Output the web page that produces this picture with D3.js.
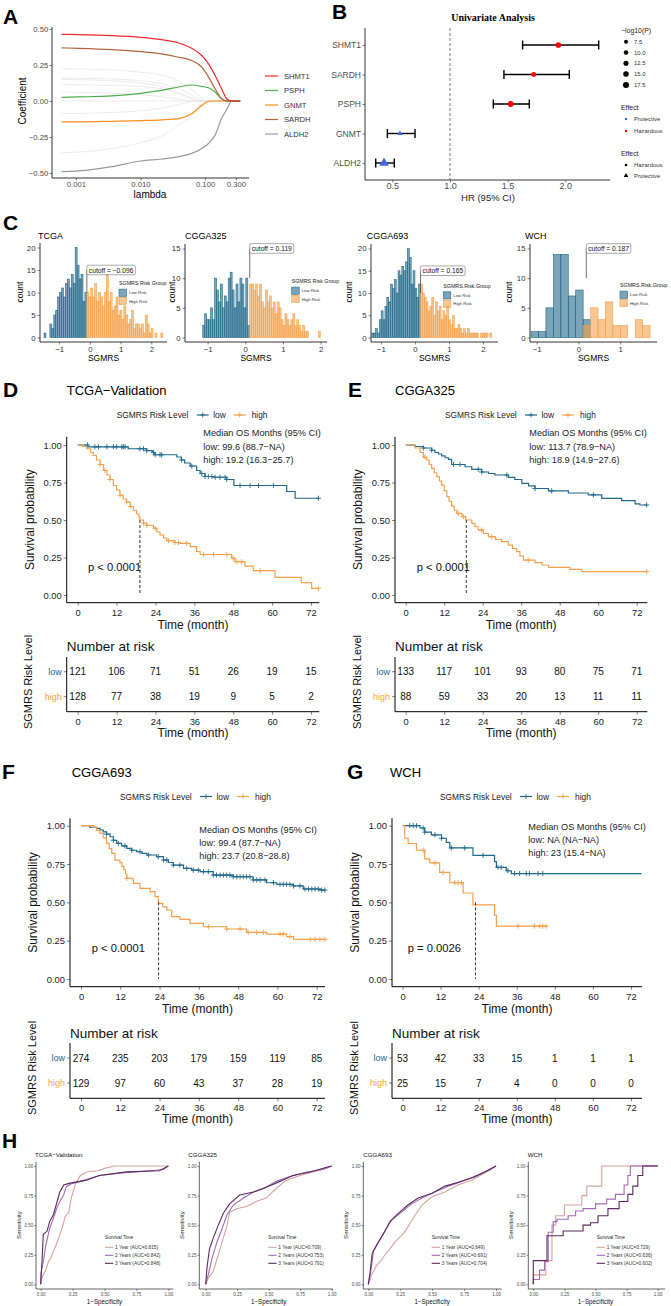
<!DOCTYPE html>
<html>
<head>
<meta charset="utf-8">
<script src="https://cdn.jsdelivr.net/npm/d3@7"></script>
<style>
  body { margin: 0; background: #fff; }
  svg { display: block; font-family: "Liberation Sans", Arial, sans-serif; }
</style>
</head>
<body>
<svg id="fig" width="671" height="1306"></svg>
<script>
// ---------- A: lasso paths ----------
const lassoLambda = [0.0006, 0.0011, 0.0036, 0.01, 0.021, 0.039, 0.062, 0.089, 0.113, 0.143, 0.18, 0.22, 0.26, 0.35];
const lassoGenes = ["SHMT1", "PSPH", "GNMT", "SARDH", "ALDH2"];
const coefSHMT1 = [0.463, 0.461, 0.454, 0.442, 0.426, 0.403, 0.366, 0.316, 0.258, 0.177, 0.085, 0.012, 0, 0];
const coefPSPH  = [0.025, 0.028, 0.035, 0.053, 0.074, 0.097, 0.111, 0.101, 0.092, 0.062, 0.016, 0, 0, 0];
const coefGNMT  = [-0.145, -0.145, -0.141, -0.136, -0.131, -0.122, -0.088, -0.03, -0.002, 0, 0, 0, 0, 0];
const coefSARDH = [0.369, 0.366, 0.357, 0.343, 0.327, 0.304, 0.281, 0.235, 0.166, 0.085, 0.016, 0, 0, 0];
const coefALDH2 = [-0.491, -0.486, -0.456, -0.417, -0.403, -0.387, -0.364, -0.33, -0.295, -0.237, -0.122, -0.053, 0, 0];
const coefOther = [
  [0.224, 0.222, 0.215, 0.2, 0.18, 0.14, 0.08, 0.02, 0, 0, 0, 0, 0, 0],
  [0.159, 0.158, 0.153, 0.14, 0.12, 0.085, 0.04, 0.005, 0, 0, 0, 0, 0, 0],
  [0.15, 0.148, 0.14, 0.125, 0.1, 0.06, 0.02, 0, 0, 0, 0, 0, 0, 0],
  [0.115, 0.113, 0.108, 0.1, 0.085, 0.05, 0.015, 0, 0, 0, 0, 0, 0, 0],
  [0.062, 0.06, 0.055, 0.045, 0.03, 0.012, 0, 0, 0, 0, 0, 0, 0, 0],
  [0, 0, 0, 0, 0, 0, 0, 0, 0, 0, 0, 0, 0, 0],
  [-0.088, -0.086, -0.08, -0.068, -0.05, -0.025, -0.005, 0, 0, 0, 0, 0, 0, 0],
  [-0.36, -0.355, -0.33, -0.29, -0.245, -0.17, -0.1, -0.04, -0.005, 0, 0, 0, 0, 0]
];
const lassoXTicks = [0.001, 0.01, 0.1, 0.3];
const lassoYTicks = [-0.5, -0.25, 0, 0.25, 0.5];

// ---------- B: univariate cox ----------
const uniGenes = ["SHMT1", "SARDH", "PSPH", "GNMT", "ALDH2"];
const uniHR    = [1.94, 1.726, 1.526, 0.566, 0.428];
const uniLow   = [1.63, 1.468, 1.376, 0.457, 0.356];
const uniHigh  = [2.29, 2.035, 1.688, 0.697, 0.517];
const uniLogP  = [15.5, 12.0, 17.0, 5.0, 16.5];
const uniEffect = ["Hazardous", "Hazardous", "Hazardous", "Protective", "Protective"];
const uniSizeLegend = [7.5, 10.0, 12.5, 15.0, 17.5];
const uniXTicks = [0.5, 1.0, 1.5, 2.0];

// ---------- C: SGMRS histograms ----------
const histNames = ["TCGA", "CGGA325", "CGGA693", "WCH"];
const histCutoff = [-0.096, 0.119, 0.165, 0.187];
const histCutoffText = ["cutoff = −0.096", "cutoff = 0.119", "cutoff = 0.165", "cutoff = 0.187"];
const histStart = [-1.489, -1.129, -1.265, -1.134];
const histWidth = [0.0633, 0.052, 0.055, 0.178];
const histHighFrom = [22, 24, 26, 7];
const histLow = [
  [1, 0, 0, 3, 2, 5, 6, 9, 10, 11, 9, 12, 13, 11, 14, 12, 20, 16, 13, 14, 8, 10],
  [2, 4, 3, 3, 5, 3, 10, 8, 6, 9, 5, 7, 6, 10, 11, 8, 5, 9, 6, 10, 9, 5, 10, 2],
  [1, 1, 2, 1, 4, 6, 4, 7, 9, 8, 12, 11, 13, 10, 15, 14, 16, 15, 17, 20, 18, 12, 15, 11, 9, 12],
  [1, 1, 5, 14, 14, 7, 8, 3]
];
const histHigh = [
  [10, 9, 11, 9, 12, 8, 10, 9, 7, 10, 14, 8, 10, 6, 7, 9, 5, 6, 4, 7, 5, 3, 4, 6, 2, 3, 3, 2, 3, 1, 5, 3, 1, 2, 0, 1, 0, 0, 1],
  [9, 9, 8, 9, 7, 9, 6, 5, 8, 6, 7, 5, 6, 4, 6, 5, 3, 2, 4, 3, 2, 3, 4, 2, 3, 2, 1, 2, 1, 1, 0, 0, 0, 0, 0, 1],
  [12, 10, 9, 8, 6, 7, 9, 5, 8, 6, 7, 4, 6, 5, 7, 4, 3, 5, 2, 2, 3, 2, 1, 2, 1, 2, 1, 1, 1, 1, 1, 0, 1, 1, 1, 1, 0, 1],
  [2, 5, 3, 6, 2, 2, 0, 3, 2]
];
const histLegendTitle = ["SGMRS Risk Group", "SGMRS Risk Group", "SGMRS.Risk.Group", "SGMRS.Risk.Group"];
const histGroups = ["Low Risk", "High Risk"];
const histYTicks = [[0, 5, 10, 15, 20], [0, 5, 10, 15], [0, 5, 10, 15, 20], [0, 5, 10, 15]];
const histXTicks = [[-1, 0, 1, 2], [-1, 0, 1, 2], [-1, 0, 1, 2], [-1, 0, 1]];

// ---------- D-G: Kaplan-Meier ----------
const kmTicks = [0, 12, 24, 36, 48, 60, 72];
const kmYTicks = [0, 0.25, 0.5, 0.75, 1];

const tcgaName = "TCGA−Validation";
const tcgaLowSteps = [[0,1],[3.2,0.988],[15.6,0.975],[21.3,0.962],[23,0.95],[23.8,0.935],[30.6,0.92],[32,0.9],[33,0.88],[34.7,0.86],[36.7,0.83],[37.8,0.81],[39.3,0.79],[41.9,0.785],[46,0.77],[48.2,0.73],[64.5,0.69],[67.1,0.645]];
const tcgaLowCensor = [3.0,5.3,6.4,9.0,11.0,12.0,13.6,14.1,14.6,19.2,20.3,21.3,23.4,23.9,25.4,25.9,32.1,35.2,38.3,39.3,40.3,41.4,42.4,43.9,45.5,46.0,50.1,53.2,55.8,60.4,74.3];
const tcgaHighSteps = [[0,1],[1.5,0.99],[2.8,0.975],[4,0.95],[4.8,0.93],[5.8,0.9],[6.9,0.87],[8,0.83],[9,0.8],[10,0.77],[11,0.73],[12,0.7],[13,0.665],[14,0.64],[15.1,0.62],[16.2,0.59],[17.2,0.565],[18.2,0.54],[18.9,0.52],[19.2,0.5],[20.3,0.48],[21.3,0.465],[23.4,0.445],[24.4,0.42],[25.4,0.4],[26.5,0.38],[27.5,0.362],[30,0.35],[31.6,0.344],[34.7,0.322],[36.7,0.29],[37.8,0.27],[47.5,0.245],[48.5,0.222],[51.6,0.193],[54.2,0.162],[60.9,0.118],[69,0.082],[72.2,0.044]];
const tcgaHighCensor = [6.9,8.4,10.0,13.1,15.1,16.4,20.3,21.3,23.9,28.0,30.0,31.1,33.6,38.8,41.9,46.0,48.0,49.1,50.6,56.3,74.3];
const tcgaMedian = 19.2;
const tcgaText = ["Median OS Months (95% CI)", "low: 99.6 (88.7−NA)", "high: 19.2 (16.3−25.7)"];
const tcgaP = "p < 0.0001";
const tcgaRiskLow = [121, 106, 71, 51, 26, 19, 15];
const tcgaRiskHigh = [128, 77, 38, 19, 9, 5, 2];

const c325Name = "CGGA325";
const c325LowSteps = [[0,1],[2.9,0.99],[5.5,0.98],[8.1,0.965],[9.1,0.95],[10.2,0.94],[11.2,0.927],[12.3,0.915],[13.3,0.904],[14.3,0.87],[18.5,0.855],[20.6,0.838],[23.7,0.82],[25.8,0.81],[27.8,0.8],[32,0.784],[34,0.77],[36.2,0.744],[38.3,0.728],[40.3,0.71],[44.5,0.694],[50.7,0.68],[56.9,0.667],[61.1,0.644],[67.3,0.629],[71.5,0.607],[73,0.6]];
const c325LowCensor = [5.5,8.1,14.9,16.9,22.6,23.7,31.5,40.3,45.5,58.5,75.1];
const c325HighSteps = [[0,1],[2.9,0.98],[4.5,0.95],[5.5,0.918],[6.5,0.9],[7.3,0.87],[8.1,0.844],[8.9,0.815],[9.7,0.789],[10.5,0.76],[11.2,0.733],[12,0.695],[12.8,0.656],[13.5,0.625],[14.3,0.593],[15.1,0.565],[15.9,0.544],[17.5,0.522],[18.7,0.5],[20.6,0.478],[21.6,0.455],[22.6,0.433],[24.2,0.41],[25.8,0.389],[28,0.37],[29.9,0.356],[32,0.333],[33.3,0.31],[34.6,0.289],[35.6,0.26],[36.7,0.233],[40.3,0.216],[42.5,0.2],[44.5,0.184],[51.2,0.171],[54.9,0.156]];
const c325HighCensor = [6.0,16.4,18.0,23.7,26.8,38.2,75.1];
const c325Median = 18.9;
const c325Text = ["Median OS Months (95% CI)", "low: 113.7 (78.9−NA)", "high: 18.9 (14.9−27.6)"];
const c325P = "p < 0.0001";
const c325RiskLow = [133, 117, 101, 93, 80, 75, 71];
const c325RiskHigh = [88, 59, 33, 20, 13, 11, 11];

const c693Name = "CGGA693";
const c693LowSteps = [[0,1],[2.7,0.99],[4.8,0.983],[5.8,0.972],[6.8,0.96],[7.8,0.945],[8.9,0.928],[9.9,0.905],[10.9,0.885],[12.4,0.868],[14,0.852],[15.5,0.84],[17,0.83],[18.6,0.82],[20.1,0.809],[23.1,0.798],[25.2,0.776],[26.7,0.76],[28.2,0.743],[31.3,0.722],[33.8,0.71],[36.4,0.7],[40.4,0.678],[46.5,0.667],[52.6,0.646],[56.7,0.628],[59.8,0.617],[64.9,0.607],[67.9,0.587],[73,0.58]];
const c693LowCensor = [7.8,9.9,11.4,13.4,15.5,18.0,20.6,23.6,25.2,26.2,28.2,30.2,32.3,34.3,35.8,37.4,38.9,40.4,41.4,42.5,43.5,44.5,45.5,46.5,47.6,48.6,49.6,50.6,51.6,52.6,53.7,54.7,56.2,58.8,60.8,61.8,62.8,63.8,64.9,66.9,68.4,69.5,70.5,71.5,72.5,73.5,74.5];
const c693HighSteps = [[0,1],[3.8,0.99],[4.8,0.97],[5.8,0.95],[6.8,0.92],[7.8,0.885],[8.6,0.85],[9.4,0.82],[10.4,0.776],[11.9,0.759],[12.5,0.735],[13.1,0.711],[13.6,0.685],[14,0.657],[16,0.624],[18,0.591],[21.1,0.57],[22.6,0.537],[23.6,0.493],[25,0.47],[26.2,0.45],[27.7,0.407],[30.2,0.389],[33.3,0.363],[37.4,0.341],[44.5,0.326],[50.6,0.304],[56.7,0.293],[62.8,0.276],[64.9,0.259]];
const c693HighCensor = [14.0,38.9,44.5,48.6,51.1,53.7,55.7,60.8,61.8,63.8,70.0,71.5,73.0,74.5];
const c693Median = 23.7;
const c693Text = ["Median OS Months (95% CI)", "low: 99.4 (87.7−NA)", "high: 23.7 (20.8−28.8)"];
const c693P = "p < 0.0001";
const c693RiskLow = [274, 235, 203, 179, 159, 119, 85];
const c693RiskHigh = [129, 97, 60, 43, 37, 28, 19];

const wchName = "WCH";
const wchLowSteps = [[0,1],[5.5,0.985],[7,0.958],[9.1,0.94],[12.3,0.918],[13.8,0.891],[14.9,0.855],[22.2,0.806],[29,0.766],[29.6,0.728],[32.7,0.706],[34.3,0.688]];
const wchLowCensor = [2.3,3.4,4.4,6.5,7.0,10.2,12.3,15.4,19.6,25.4,30.1,31.1,33.2,35.3,36.9,39.0,40.0,42.7,44.2];
const wchHighSteps = [[0,1],[0.7,0.918],[1.8,0.884],[4.4,0.84],[7,0.784],[8.6,0.757],[11.7,0.695],[14.9,0.628],[19.1,0.561],[22.2,0.483],[29,0.416],[29.6,0.345]];
const wchHighCensor = [6.5,10.2,12.8,16.5,17.5,18.6,36.4,41.6,43.2,44.2,45.3];
const wchMedian = 23;
const wchText = ["Median OS Months (95% CI)", "low: NA (NA−NA)", "high: 23 (15.4−NA)"];
const wchP = "p = 0.0026";
const wchRiskLow = [53, 42, 33, 15, 1, 1, 1];
const wchRiskHigh = [25, 15, 7, 4, 0, 0, 0];

// ---------- H: time-dependent ROC ----------
const rocNames = ["TCGA−Validation", "CGGA325", "CGGA693", "WCH"];
const rocLabels = ["1 Year", "2 Years", "3 Years"];
const rocAUC = [[0.815, 0.842, 0.848], [0.709, 0.753, 0.791], [0.649, 0.691, 0.704], [0.729, 0.636, 0.602]];
const rocTicks = [0, 0.25, 0.5, 0.75, 1];
const rocTCGA = [
  [[0,0],[0.005,0.04],[0.02,0.08],[0.04,0.12],[0.06,0.19],[0.08,0.22],[0.1,0.28],[0.12,0.33],[0.14,0.39],[0.16,0.45],[0.18,0.52],[0.19,0.57],[0.22,0.61],[0.24,0.73],[0.27,0.84],[0.31,0.92],[0.36,0.95],[0.45,0.96],[0.5,0.98],[0.58,1],[1,1]],
  [[0,0],[0.003,0.1],[0.02,0.19],[0.04,0.33],[0.07,0.47],[0.1,0.56],[0.125,0.64],[0.15,0.7],[0.18,0.755],[0.2,0.825],[0.24,0.85],[0.31,0.87],[0.46,0.92],[0.62,0.94],[0.86,0.96],[0.96,0.97],[1,1]],
  [[0,0],[0.005,0.1],[0.01,0.19],[0.02,0.42],[0.05,0.45],[0.07,0.53],[0.1,0.59],[0.125,0.685],[0.15,0.78],[0.18,0.84],[0.23,0.855],[0.31,0.87],[0.36,0.88],[0.46,0.92],[0.67,0.95],[0.93,0.96],[1,1]]
];
const rocC325 = [
  [[0,0],[0.02,0.05],[0.06,0.11],[0.08,0.18],[0.1,0.25],[0.12,0.32],[0.14,0.39],[0.17,0.5],[0.19,0.61],[0.25,0.64],[0.33,0.66],[0.4,0.7],[0.48,0.73],[0.52,0.77],[0.56,0.81],[0.64,0.88],[0.75,0.92],[0.85,0.95],[0.95,0.98],[1,1]],
  [[0,0],[0.02,0.08],[0.05,0.22],[0.09,0.36],[0.13,0.47],[0.17,0.59],[0.22,0.67],[0.3,0.73],[0.38,0.78],[0.46,0.81],[0.56,0.87],[0.67,0.91],[0.8,0.95],[0.93,0.97],[1,1]],
  [[0,0],[0.01,0.14],[0.03,0.3],[0.06,0.39],[0.1,0.5],[0.14,0.6],[0.19,0.68],[0.27,0.755],[0.38,0.78],[0.48,0.82],[0.59,0.87],[0.69,0.92],[0.83,0.95],[0.96,0.99],[1,1]]
];
const rocC693 = [
  [[0,0],[0.026,0.08],[0.065,0.16],[0.1,0.2],[0.13,0.25],[0.17,0.3],[0.21,0.36],[0.25,0.4],[0.29,0.45],[0.33,0.52],[0.37,0.59],[0.42,0.67],[0.5,0.74],[0.6,0.78],[0.7,0.84],[0.81,0.88],[0.91,0.94],[1,1]],
  [[0,0],[0.02,0.11],[0.04,0.28],[0.08,0.36],[0.13,0.45],[0.18,0.54],[0.26,0.61],[0.34,0.68],[0.42,0.73],[0.52,0.78],[0.63,0.83],[0.73,0.87],[0.84,0.91],[0.94,0.96],[1,1]],
  [[0,0],[0.015,0.11],[0.03,0.26],[0.065,0.33],[0.12,0.43],[0.17,0.53],[0.235,0.6],[0.31,0.67],[0.39,0.73],[0.5,0.77],[0.6,0.83],[0.7,0.86],[0.81,0.9],[0.91,0.95],[1,1]]
];
const rocWCH = [
  [[0,0],[0,0.08],[0.1,0.2],[0.15,0.5],[0.18,0.58],[0.25,0.67],[0.39,0.75],[0.43,0.83],[0.55,1],[1,1]],
  [[0,0],[0,0.04],[0.05,0.12],[0.09,0.19],[0.12,0.44],[0.16,0.53],[0.19,0.55],[0.28,0.58],[0.34,0.62],[0.4,0.64],[0.5,0.68],[0.59,0.72],[0.66,0.76],[0.73,0.84],[0.76,0.92],[0.78,1],[1,1]],
  [[0,0],[0,0.2],[0.11,0.41],[0.24,0.45],[0.4,0.5],[0.46,0.52],[0.52,0.58],[0.6,0.64],[0.69,0.7],[0.76,0.76],[0.8,0.83],[0.84,0.92],[0.88,1],[1,1]]
];

// ---------- styling ----------
const FONT = "'Liberation Sans', Arial, sans-serif";
const TEAL = "#21698A", ORANGE = "#F4A04A";
const lassoColors = ["#EE2A2F", "#4DAF4A", "#FF8F1F", "#B5633C", "#9A9A9A"];
const rocColors = ["#D3A49C", "#A06CB4", "#5C2A5E"];

const svg = d3.select("#fig");

function txt(g, x, y, s, o = {}) {
  const t = g.append("text").attr("x", x).attr("y", y).text(s)
    .attr("font-size", o.size || 10)
    .attr("fill", o.fill || "#000")
    .attr("text-anchor", o.anchor || "start")
    .attr("dominant-baseline", o.base || "central")
    .attr("font-family", o.family || FONT);
  if (o.weight) t.attr("font-weight", o.weight);
  if (o.rotate) t.attr("transform", `rotate(-90,${x},${y})`);
  return t;
}
function hline(g, x1, x2, y, c, w) {
  g.append("line").attr("x1", x1).attr("x2", x2).attr("y1", y).attr("y2", y).attr("stroke", c || "#000").attr("stroke-width", w || 0.8);
}
function vline(g, x, y1, y2, c, w) {
  g.append("line").attr("x1", x).attr("x2", x).attr("y1", y1).attr("y2", y2).attr("stroke", c || "#000").attr("stroke-width", w || 0.8);
}
function fixAxis(sel, size, color) {
  sel.select(".domain").remove();
  sel.selectAll(".tick text").attr("font-size", size).attr("fill", color).attr("font-family", FONT);
  sel.selectAll(".tick line").attr("stroke", "#333").attr("stroke-width", 0.6);
}
function plus(g, x, y, r, c) {
  g.append("path").attr("d", `M${x - r},${y}H${x + r}M${x},${y - r}V${y + r}`)
    .attr("stroke", c).attr("stroke-width", 0.9).attr("fill", "none");
}
function letter(x, y, s) {
  txt(svg, x, y, s, { size: 21, weight: "bold", base: "auto" });
}

// ================= A =================
(function () {
  const g = svg.append("g");
  letter(3, 24, "A");
  const x = d3.scaleLog().domain([Math.pow(10, -3.37), Math.pow(10, -0.32)]).range([52, 249]);
  const y = d3.scaleLinear().domain([-0.535, 0.514]).range([178, 27]);
  const line = d3.line().x((d, i) => x(lassoLambda[i])).y(d => y(d)).curve(d3.curveMonotoneX);
  coefOther.forEach(c => g.append("path").attr("d", line(c)).attr("fill", "none").attr("stroke", "#E6E6E6").attr("stroke-width", 0.8));
  const series = [coefSHMT1, coefPSPH, coefGNMT, coefSARDH, coefALDH2];
  [4, 2, 1, 3, 0].forEach(i => g.append("path").attr("d", line(series[i])).attr("fill", "none")
    .attr("stroke", lassoColors[i]).attr("stroke-width", 1.2));
  const ax = g.append("g").attr("transform", "translate(0,178)")
    .call(d3.axisBottom(x).tickValues(lassoXTicks).tickFormat(d3.format(".3f")).tickSize(2.5).tickPadding(0.8));
  fixAxis(ax, 7.7, "#4D4D4D");
  const ay = g.append("g").attr("transform", "translate(52,0)")
    .call(d3.axisLeft(y).tickValues(lassoYTicks).tickFormat(d3.format(".2f")).tickSize(2.5).tickPadding(1.2));
  fixAxis(ay, 7.7, "#4D4D4D");
  hline(g, 52, 249, 178, "#000", 0.8);
  vline(g, 52, 27, 178, "#000", 0.8);
  txt(g, 22, 101, "Coefficient", { size: 10, anchor: "middle", rotate: true });
  txt(g, 150, 194, "lambda", { size: 10, anchor: "middle" });
  lassoGenes.forEach((n, i) => {
    const yy = 76 + i * 14.5;
    hline(g, 265, 278, yy, lassoColors[i], 1.2);
    txt(g, 284, yy, n, { size: 7.6, fill: "#333" });
  });
})();

// ================= B =================
(function () {
  const g = svg.append("g");
  letter(332, 19, "B");
  const x = d3.scaleLinear().domain([0.263, 2.388]).range([365, 610]);
  const y = d3.scalePoint().domain(uniGenes).range([45, 163]);
  const r = d3.scaleSqrt().domain([0, 17.5]).range([0, 3.0]);
  txt(g, 493, 17, "Univariate Analysis", { size: 10, weight: "bold", anchor: "middle", family: "'Liberation Serif', 'Times New Roman', serif" });
  g.append("line").attr("x1", x(1)).attr("x2", x(1)).attr("y1", 28).attr("y2", 180)
    .attr("stroke", "#555").attr("stroke-width", 0.8).attr("stroke-dasharray", "3,2");
  uniGenes.forEach((n, i) => {
    const yy = y(n);
    hline(g, x(uniLow[i]), x(uniHigh[i]), yy, "#000", 1.4);
    vline(g, x(uniLow[i]), yy - 4.5, yy + 4.5, "#000", 1.4);
    vline(g, x(uniHigh[i]), yy - 4.5, yy + 4.5, "#000", 1.4);
    if (uniEffect[i] === "Hazardous") {
      g.append("circle").attr("cx", x(uniHR[i])).attr("cy", yy).attr("r", r(uniLogP[i])).attr("fill", "#FF0000");
    } else {
      const rr = r(uniLogP[i]);
      g.append("path").attr("d", d3.symbol(d3.symbolTriangle, Math.PI * rr * rr * 1.5)())
        .attr("transform", `translate(${x(uniHR[i])},${yy})`).attr("fill", "#4169E1");
    }
  });
  const ax = g.append("g").attr("transform", "translate(0,180)")
    .call(d3.axisBottom(x).tickValues(uniXTicks).tickFormat(d3.format(".1f")).tickSize(2.5).tickPadding(0.5));
  fixAxis(ax, 9, "#4D4D4D");
  const ay = g.append("g").attr("transform", "translate(365,0)")
    .call(d3.axisLeft(y).tickSize(2.5).tickPadding(1.5));
  fixAxis(ay, 8.5, "#4D4D4D");
  hline(g, 365, 610, 180, "#000", 0.8);
  vline(g, 365, 28, 180, "#000", 0.8);
  txt(g, 488, 197, "HR (95% CI)", { size: 9.5, anchor: "middle", fill: "#222" });
  // legends
  txt(g, 621, 30, "−log10(P)", { size: 6.9, fill: "#222" });
  uniSizeLegend.forEach((v, i) => {
    const yy = 41.7 + i * 10.8;
    g.append("circle").attr("cx", 626).attr("cy", yy).attr("r", r(v)).attr("fill", "#000");
    txt(g, 634, yy, d3.format(".1f")(v), { size: 5.9, fill: "#333" });
  });
  txt(g, 621, 107.7, "Effect", { size: 6.9, fill: "#222" });
  [["Protective", "#4169E1"], ["Hazardous", "#FF0000"]].forEach(([n, c], i) => {
    const yy = 119 + i * 12;
    g.append("circle").attr("cx", 626).attr("cy", yy).attr("r", 1.2).attr("fill", c);
    txt(g, 634, yy, n, { size: 5.9, fill: "#333" });
  });
  txt(g, 621, 153, "Effect", { size: 6.9, fill: "#222" });
  g.append("circle").attr("cx", 626).attr("cy", 165).attr("r", 1.3).attr("fill", "#000");
  txt(g, 634, 165, "Hazardous", { size: 5.9, fill: "#333" });
  g.append("path").attr("d", d3.symbol(d3.symbolTriangle, 9)()).attr("transform", "translate(626,175.7)").attr("fill", "#000");
  txt(g, 634, 175.7, "Protective", { size: 5.9, fill: "#333" });
})();

// ================= C =================
const histLayout = [
  { L: 40, R: 167, top: 243, bottom: 342, xDom: [-1.62, 2.51], titleX: 38, countX: 20, legX: 119, legY: 283 },
  { L: 185, R: 327, top: 244, bottom: 342, xDom: [-1.6, 2.17], titleX: 185, countX: 172, legX: 291.7, legY: 281 },
  { L: 371, R: 498, top: 244, bottom: 342, xDom: [-1.29, 2.44], titleX: 366.7, countX: 349, legX: 443.3, legY: 285.7 },
  { L: 530, R: 657, top: 244, bottom: 342, xDom: [-1.16, 1.88], titleX: 525, countX: 509, legX: 620, legY: 285 }
];
letter(3, 230, "C");
histNames.forEach((name, k) => {
  const p = histLayout[k];
  const g = svg.append("g");
  const nb = histHighFrom[k] + histHigh[k].length;
  const lowAll = d3.range(nb).map(i => i < histLow[k].length ? histLow[k][i] : 0);
  const highAll = d3.range(nb).map(i => i >= histHighFrom[k] ? histHigh[k][i - histHighFrom[k]] : 0);
  const m = Math.max(15, d3.max(lowAll), d3.max(highAll));
  const x = d3.scaleLinear().domain(p.xDom).range([p.L, p.R]);
  const y = d3.scaleLinear().domain([-0.05 * m, 1.05 * m]).range([p.bottom, p.top]);
  const w = histWidth[k], s0 = histStart[k];
  [[lowAll, TEAL], [highAll, ORANGE]].forEach(([cnt, c]) => {
    cnt.forEach((v, i) => {
      const x0 = x(s0 + i * w), x1 = x(s0 + (i + 1) * w);
      g.append("rect").attr("x", x0).attr("width", x1 - x0).attr("y", y(v)).attr("height", Math.max(0, y(0) - y(v)))
        .attr("fill", c).attr("fill-opacity", 0.6).attr("stroke", c).attr("stroke-width", 0.6);
    });
  });
  // cutoff annotation
  const cx = x(histCutoff[k]);
  vline(g, cx, y(10), y(15), "#333", 0.7);
  const lab = txt(g, cx + 2, y(15), histCutoffText[k], { size: 6.7, fill: "#111" });
  const bw = lab.node().getComputedTextLength() + 4;
  g.insert("rect", "text:last-of-type").attr("x", cx).attr("y", y(15) - 4.8).attr("width", bw).attr("height", 9.6)
    .attr("rx", 1.5).attr("fill", "#fff").attr("stroke", "#555").attr("stroke-width", 0.5);
  lab.raise();
  // axes
  const ax = g.append("g").attr("transform", `translate(0,${p.bottom})`)
    .call(d3.axisBottom(x).tickValues(histXTicks[k]).tickFormat(d3.format("d")).tickSize(2.5).tickPadding(1.5));
  fixAxis(ax, 7.8, "#333");
  const ay = g.append("g").attr("transform", `translate(${p.L},0)`)
    .call(d3.axisLeft(y).tickValues(histYTicks[k]).tickSize(2.5).tickPadding(2));
  fixAxis(ay, 7.8, "#333");
  hline(g, p.L, p.R, p.bottom, "#000", 0.8);
  vline(g, p.L, p.top, p.bottom, "#000", 0.8);
  txt(g, p.titleX, 236, name, { size: 9 });
  txt(g, p.countX, 292, "count", { size: 8.5, anchor: "middle", rotate: true });
  txt(g, (p.L + p.R) / 2, 357.5, "SGMRS", { size: 8.5, anchor: "middle" });
  // legend
  txt(g, p.legX, p.legY, histLegendTitle[k], { size: 5.3, fill: "#222" });
  [[TEAL, histGroups[0]], [ORANGE, histGroups[1]]].forEach(([c, n], i) => {
    const yy = p.legY + 9.7 + i * 8.3;
    g.append("rect").attr("x", p.legX).attr("y", yy - 3.6).attr("width", 7.5).attr("height", 7.2)
      .attr("fill", c).attr("fill-opacity", 0.6).attr("stroke", c).attr("stroke-width", 0.6);
    txt(g, p.legX + 10, yy, n, { size: 4.3, fill: "#333" });
  });
});

// ================= D-G =================
function survAt(steps, t) {
  let s = 1;
  steps.forEach(v => { if (v[0] <= t) s = v[1]; });
  return s;
}
function drawKM(p, d) {
  const g = svg.append("g");
  const x = d3.scaleLinear().domain([0, 72]).range([p.x0, p.x72]);
  const y = d3.scaleLinear().domain([0, 1]).range([p.y0, p.y1]);
  letter(p.letterX, p.letterY, p.letter);
  txt(g, p.titleX, p.titleY, d.name, { size: 13 });
  // legend
  txt(g, p.legX, p.legY, "SGMRS Risk Level", { size: 8.4, fill: "#222" });
  [["low", TEAL, 80, 96.5], ["high", ORANGE, 117, 135]].forEach(([n, c, k, t]) => {
    hline(g, p.legX + k, p.legX + k + 12, p.legY, c, 1.2);
    plus(g, p.legX + k + 6, p.legY, 2.4, c);
    txt(g, p.legX + t, p.legY, n, { size: 8.4, fill: "#222" });
  });
  d.text.forEach((s, i) => txt(g, p.medX, p.medY[i], s, { size: 9.2, fill: "#222" }));
  // curves
  const line = d3.line().x(v => x(v[0])).y(v => y(v[1])).curve(d3.curveStepAfter);
  [[d.lowSteps, d.lowEnd, d.lowCensor, TEAL], [d.highSteps, d.highEnd, d.highCensor, ORANGE]].forEach(([st, end, cen, c]) => {
    const pts = st.concat([[end, st[st.length - 1][1]]]);
    g.append("path").attr("d", line(pts)).attr("fill", "none").attr("stroke", c).attr("stroke-width", 1.2);
    cen.forEach(t => plus(g, x(t), y(survAt(st, t)), 2.6, c));
  });
  g.append("line").attr("x1", x(d.median)).attr("x2", x(d.median)).attr("y1", y(0.5)).attr("y2", y(0))
    .attr("stroke", "#222").attr("stroke-width", 0.9).attr("stroke-dasharray", "3,2");
  txt(g, p.pX, p.pY, d.p, { size: 11.2, fill: "#111" });
  // axes
  const ax = g.append("g").attr("transform", `translate(0,${p.bottom})`)
    .call(d3.axisBottom(x).tickValues(kmTicks).tickSize(3).tickPadding(3.2));
  fixAxis(ax, 9.4, "#222");
  const ay = g.append("g").attr("transform", `translate(${p.L},0)`)
    .call(d3.axisLeft(y).tickValues(kmYTicks).tickFormat(d3.format(".2f")).tickSize(3).tickPadding(2));
  fixAxis(ay, 9.4, "#222");
  hline(g, p.L, p.R, p.bottom, "#000", 1);
  vline(g, p.L, p.top, p.bottom, "#000", 1);
  txt(g, p.L - 37, (p.top + p.bottom) / 2, "Survival probability", { size: 12, anchor: "middle", rotate: true, fill: "#111" });
  txt(g, (p.L + p.R) / 2, p.bottom + 22.5, "Time (month)", { size: 12, anchor: "middle", fill: "#111" });
  // risk table
  const ty = d3.scalePoint().domain(["low", "high"]).range([p.lowY, p.highY]);
  txt(g, p.L, p.tabTitleY, "Number at risk", { size: 13.5, fill: "#111" });
  kmTicks.forEach((t, i) => {
    txt(g, x(t), ty("low"), d.riskLow[i], { size: 10, anchor: "middle", fill: "#111" });
    txt(g, x(t), ty("high"), d.riskHigh[i], { size: 10, anchor: "middle", fill: "#111" });
  });
  [["low", TEAL], ["high", ORANGE]].forEach(([n, c]) => {
    hline(g, p.L - 3, p.L, ty(n), "#333", 0.6);
    txt(g, p.L - 5, ty(n), n, { size: 9, anchor: "end", fill: c });
  });
  const tx = g.append("g").attr("transform", `translate(0,${p.tabBottom})`)
    .call(d3.axisBottom(x).tickValues(kmTicks).tickSize(3).tickPadding(3.2));
  fixAxis(tx, 9.4, "#222");
  hline(g, p.L, p.R, p.tabBottom, "#000", 1);
  vline(g, p.L, p.tabTop, p.tabBottom, "#000", 1);
  txt(g, (p.L + p.R) / 2, p.tabBottom + 21, "Time (month)", { size: 12, anchor: "middle", fill: "#111" });
  txt(g, p.L - 38.5, p.tabTop + 25, "SGMRS Risk Level", { size: 11, anchor: "middle", rotate: true, fill: "#111" });
}

const kmTopRow = { top: 436.7, bottom: 602.7, y1: 445, y0: 595, letterY: 397, titleY: 390.5, legY: 415, medY: [432.5, 446.5, 460],
  pY: 566.7, tabTitleY: 646.7, lowY: 671.7, highY: 696.7, tabTop: 657, tabBottom: 711.7 };
const kmBotRow = { top: 818.3, bottom: 986.7, y1: 825.7, y0: 979, letterY: 779, titleY: 772.5, legY: 796.5, medY: [829.5, 843, 856.3],
  pY: 948.3, tabTitleY: 1033, lowY: 1058, highY: 1083, tabTop: 1043, tabBottom: 1098.3 };

drawKM(Object.assign({}, kmTopRow, { letter: "D", letterX: 3, L: 66.7, R: 319.3, x0: 77.7, x72: 311, titleX: 66.7, legX: 116.7, medX: 203.3, pX: 88 }),
  { name: tcgaName, lowSteps: tcgaLowSteps, lowEnd: 74.5, lowCensor: tcgaLowCensor, highSteps: tcgaHighSteps, highEnd: 74.5, highCensor: tcgaHighCensor,
    median: tcgaMedian, text: tcgaText, p: tcgaP, riskLow: tcgaRiskLow, riskHigh: tcgaRiskHigh });
drawKM(Object.assign({}, kmTopRow, { letter: "E", letterX: 348, L: 395, R: 647.3, x0: 405.7, x72: 636.7, titleX: 395, legX: 445, medX: 529.3, pX: 416.7 }),
  { name: c325Name, lowSteps: c325LowSteps, lowEnd: 75.3, lowCensor: c325LowCensor, highSteps: c325HighSteps, highEnd: 75.3, highCensor: c325HighCensor,
    median: c325Median, text: c325Text, p: c325P, riskLow: c325RiskLow, riskHigh: c325RiskHigh });
drawKM(Object.assign({}, kmBotRow, { letter: "F", letterX: 2, L: 70, R: 325, x0: 81, x72: 316.7, titleX: 71.7, legX: 120, medX: 199.3, pX: 91.7 }),
  { name: c693Name, lowSteps: c693LowSteps, lowEnd: 74.5, lowCensor: c693LowCensor, highSteps: c693HighSteps, highEnd: 74.5, highCensor: c693HighCensor,
    median: c693Median, text: c693Text, p: c693P, riskLow: c693RiskLow, riskHigh: c693RiskHigh });
drawKM(Object.assign({}, kmBotRow, { letter: "G", letterX: 347, L: 392, R: 642, x0: 402.5, x72: 631, titleX: 390, legX: 440, medX: 528.3, pX: 407.7,
  medY: [826.7, 840, 852.7] }),
  { name: wchName, lowSteps: wchLowSteps, lowEnd: 75.3, lowCensor: wchLowCensor, highSteps: wchHighSteps, highEnd: 45.3, highCensor: wchHighCensor,
    median: wchMedian, text: wchText, p: wchP, riskLow: wchRiskLow, riskHigh: wchRiskHigh });

// ================= H =================
letter(2, 1148, "H");
const rocLayout = [
  { L: 36, R: 173.3, x0: 40.7, x1: 168.3, titleX: 35, ylabX: 18.3, legX: 105 },
  { L: 199.3, R: 333, x0: 205.7, x1: 331.7, titleX: 188.3, ylabX: 181.7, legX: 268.3 },
  { L: 363.3, R: 501.7, x0: 368.3, x1: 496, titleX: 363.3, ylabX: 345, legX: 431.7 },
  { L: 528.3, R: 665, x0: 533.3, x1: 657.7, titleX: 527.7, ylabX: 510, legX: 596.7 }
];
[rocTCGA, rocC325, rocC693, rocWCH].forEach((curves, k) => {
  const p = rocLayout[k];
  const g = svg.append("g");
  const top = 1161.7, bottom = 1289;
  const x = d3.scaleLinear().domain([0, 1]).range([p.x0, p.x1]);
  const y = d3.scaleLinear().domain([0, 1]).range([1284.3, 1166]);
  // the small cohort (WCH) shows clear steps, the larger ones read as near-continuous
  const line = d3.line().x(v => x(v[0])).y(v => y(v[1])).curve(k === 3 ? d3.curveStepAfter : d3.curveLinear);
  curves.forEach((c, i) => g.append("path").attr("d", line(c)).attr("fill", "none")
    .attr("stroke", rocColors[i]).attr("stroke-width", 1.1));
  const ax = g.append("g").attr("transform", `translate(0,${bottom})`)
    .call(d3.axisBottom(x).tickValues(rocTicks).tickFormat(d3.format(".2f")).tickSize(1.8).tickPadding(2.2));
  fixAxis(ax, 4.5, "#4D4D4D");
  const ay = g.append("g").attr("transform", `translate(${p.L},0)`)
    .call(d3.axisLeft(y).tickValues(rocTicks).tickFormat(d3.format(".2f")).tickSize(1.8).tickPadding(1));
  fixAxis(ay, 4.5, "#4D4D4D");
  hline(g, p.L, p.R, bottom, "#000", 0.6);
  vline(g, p.L, top, bottom, "#000", 0.6);
  txt(g, p.titleX, 1154.5, rocNames[k], { size: 6.2, fill: "#111" });
  txt(g, p.ylabX, 1225, "Sensitivity", { size: 6.2, anchor: "middle", rotate: true, fill: "#111" });
  txt(g, (p.x0 + p.x1) / 2, 1301.5, "1−Specificity", { size: 6.3, anchor: "middle", fill: "#111" });
  txt(g, p.legX, 1237.7, "Survival Time", { size: 4.7, fill: "#222" });
  rocLabels.forEach((n, i) => {
    const yy = 1247.3 + i * 8;
    hline(g, p.legX, p.legX + 8.3, yy, rocColors[i], 1.1);
    txt(g, p.legX + 10, yy, `${n} (AUC=${d3.format(".3f")(rocAUC[k][i])})`, { size: 4.8, fill: "#333" });
  });
});
</script>
</body>
</html>
